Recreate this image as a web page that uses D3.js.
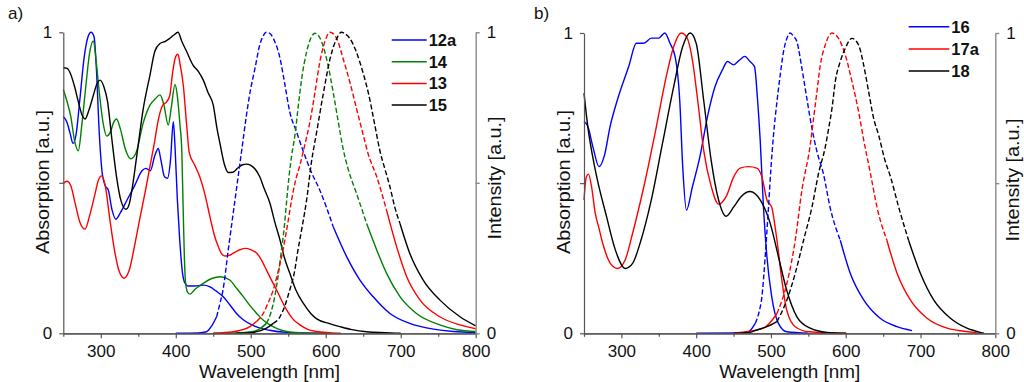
<!DOCTYPE html>
<html><head><meta charset="utf-8">
<script src="https://cdn.jsdelivr.net/npm/d3@7"></script>
<style>
html,body{margin:0;padding:0;background:#fff;}
svg{display:block;font-family:"Liberation Sans",Arial,sans-serif;}
</style></head>
<body>
<svg id="chart" width="1024" height="382"></svg>
<script>
// ---------- DATA (wavelength nm, normalised value) ----------
const xMajorTicks = [300,400,500,600,700,800];
const xMinorTicks = [250,350,450,550,650,750];
const yTicks = [0,0.5,1];

// panel a)
const legendA = ["12a","14","13","15"];
const abs12a = [[250,0.72],[255,0.70],[259,0.665],[263,0.631],[267,0.66],[272,0.775],[278,0.92],[283,0.985],[287,1.0],[291,0.985],[294,0.886],[298,0.664],[302,0.53],[306,0.49],[310,0.476],[315,0.41],[320,0.379],[326,0.40],[335,0.443],[345,0.49],[355,0.54],[360,0.548],[366,0.54],[372,0.59],[376.7,0.614],[380,0.578],[385,0.52],[389,0.515],[393,0.576],[396.7,0.703],[399,0.62],[402,0.45],[405,0.32],[409,0.2],[412,0.168],[416.7,0.157],[425,0.157],[436.7,0.16],[445,0.155],[454,0.14],[463,0.122],[472,0.095],[481,0.066],[490,0.045],[503,0.026],[525,0.01],[548,0.003],[600,0]];
const em12a = [[400,0],[430,0.001],[441,0.005],[448,0.025],[454.5,0.055],[459,0.1],[463,0.144],[470,0.277],[479,0.443],[488,0.609],[494,0.72],[499,0.8],[505.6,0.88],[512,0.958],[516,0.985],[521,1.0],[526,0.995],[530,0.98],[539,0.914],[545.6,0.825],[552,0.736],[561,0.67],[570,0.605],[580,0.54],[592,0.476],[610,0.354],[628,0.254],[645.6,0.177],[663,0.122],[685.6,0.066],[712,0.033],[743.6,0.014],[770,0.006],[800,0.003]];
const abs14 = [[250,0.81],[255,0.77],[260,0.72],[265,0.64],[270,0.606],[275,0.70],[280,0.82],[285,0.93],[290,0.971],[294,0.90],[298,0.80],[303,0.70],[308,0.655],[313,0.67],[317,0.70],[321,0.712],[326,0.68],[333,0.61],[340,0.58],[347,0.60],[356.7,0.70],[365.6,0.758],[373,0.78],[379,0.792],[384,0.76],[390,0.692],[394,0.75],[399,0.827],[402,0.79],[405.6,0.692],[408,0.609],[410,0.40],[411.5,0.25],[413,0.17],[416,0.135],[419,0.13],[425,0.145],[436.7,0.166],[448,0.182],[459,0.188],[472,0.177],[481,0.15],[490,0.122],[499,0.092],[508,0.066],[516,0.045],[525.6,0.028],[536,0.015],[548,0.006],[565,0.002],[600,0]];
const em14 = [[450,0],[480,0.001],[503,0.006],[512,0.015],[521,0.033],[527,0.07],[532,0.122],[537,0.2],[541,0.277],[545,0.36],[548,0.443],[551,0.52],[554.5,0.59],[559,0.659],[563,0.747],[568,0.847],[574.5,0.935],[580,0.98],[585.6,0.997],[590,0.99],[594.5,0.969],[603,0.891],[610,0.80],[616.7,0.703],[623,0.615],[630,0.545],[641,0.465],[654.5,0.365],[668,0.277],[681,0.2],[699,0.122],[721,0.066],[752,0.028],[775,0.012],[800,0.006]];
const abs13 = [[250,0.498],[255,0.505],[260,0.49],[266,0.43],[272,0.37],[279,0.346],[285,0.39],[292,0.46],[297,0.51],[301,0.523],[306,0.49],[312,0.38],[318,0.28],[324,0.21],[331,0.183],[338,0.21],[345,0.29],[352,0.38],[360,0.48],[366,0.56],[372,0.64],[376,0.70],[382,0.755],[388,0.77],[392,0.79],[396,0.87],[400,0.92],[403,0.927],[406,0.89],[410,0.825],[414.5,0.692],[418,0.60],[425,0.56],[432,0.52],[439,0.46],[445.6,0.387],[451,0.33],[456.7,0.288],[461,0.265],[465.6,0.257],[470,0.258],[476.7,0.266],[484,0.276],[492,0.282],[500,0.278],[508,0.266],[514,0.245],[521,0.21],[528,0.175],[534.5,0.144],[541,0.11],[548,0.077],[556,0.048],[565.6,0.028],[576,0.013],[588,0.006],[605,0.002],[620,0]];
const em13 = [[450,0],[476.7,0.005],[499,0.022],[508,0.04],[516.7,0.066],[523,0.1],[530,0.144],[536,0.2],[543,0.277],[549,0.36],[554.5,0.443],[559,0.5],[565.6,0.559],[572,0.625],[579,0.703],[585.6,0.8],[592,0.9],[599,0.97],[605.6,1.0],[614.5,0.98],[623,0.914],[632,0.836],[641,0.747],[650,0.659],[656.7,0.595],[668,0.52],[681,0.41],[694.5,0.288],[708,0.188],[725.6,0.111],[752,0.055],[779,0.028],[800,0.015]];
const abs15 = [[250,0.882],[255,0.88],[260,0.86],[265,0.82],[270,0.77],[275,0.725],[279,0.712],[284,0.74],[290,0.79],[295,0.83],[299,0.841],[304,0.82],[309,0.77],[315,0.64],[321,0.52],[327,0.44],[333.6,0.412],[338,0.43],[343,0.5],[348,0.59],[356.7,0.747],[365.6,0.858],[372,0.936],[379,0.963],[386,0.97],[392,0.98],[397,0.99],[403,1.0],[408,0.97],[414.5,0.936],[423,0.891],[430,0.87],[436.7,0.841],[443,0.80],[450,0.758],[455,0.68],[459,0.63],[465,0.56],[470,0.534],[476,0.535],[483,0.55],[489,0.56],[494.5,0.562],[500,0.558],[506,0.545],[512,0.52],[518,0.48],[525.6,0.432],[532,0.37],[539,0.31],[545,0.25],[552,0.2],[560,0.145],[570,0.1],[580,0.066],[588,0.048],[605,0.032],[619,0.022],[635,0.012],[654.5,0.005],[680,0.002],[700,0]];
const em15 = [[480,0],[500,0.002],[521,0.017],[530,0.033],[539,0.055],[546,0.095],[552,0.144],[558,0.2],[563,0.277],[569,0.36],[574.5,0.443],[581,0.57],[588,0.67],[597,0.80],[606,0.914],[613,0.97],[621,1.0],[626,0.995],[632,0.98],[640,0.94],[645.6,0.9],[651,0.855],[656.7,0.8],[665.6,0.69],[672,0.609],[679,0.545],[685.6,0.487],[692,0.42],[699,0.365],[712,0.266],[730,0.177],[752,0.111],[779,0.055],[800,0.025]];

// panel b)
const legendB = ["16","17a","18"];
const abs16 = [[250,0.705],[255,0.69],[262,0.62],[270,0.555],[277,0.589],[285,0.69],[295,0.78],[310,0.89],[320,0.966],[330,0.966],[340,0.983],[350,0.983],[358,1.0],[365,0.966],[372,0.92],[378,0.777],[382,0.555],[387,0.41],[395,0.488],[405,0.588],[415,0.72],[425,0.82],[435,0.877],[442,0.905],[450,0.894],[458,0.91],[465,0.922],[472,0.905],[478,0.888],[482,0.78],[485.6,0.644],[490,0.42],[494.6,0.255],[501,0.122],[510,0.033],[521,0.005],[550,0]];
const em16 = [[400,0],[460,0.001],[470,0.005],[479,0.033],[484,0.07],[487.9,0.122],[492.3,0.255],[496.7,0.42],[500,0.55],[503.4,0.66],[508,0.771],[512.4,0.86],[516.8,0.938],[521,0.98],[525.8,1.0],[530,0.99],[534.7,0.971],[541.4,0.882],[548,0.782],[554.8,0.683],[561.5,0.605],[570,0.533],[579,0.42],[592.7,0.31],[606,0.2],[624,0.111],[646,0.05],[668.6,0.022],[688.7,0.009]];
const abs17a = [[250,0.444],[253,0.52],[256,0.53],[260,0.49],[265,0.40],[270,0.35],[275,0.30],[285,0.234],[295,0.216],[305,0.244],[315,0.333],[330,0.488],[345,0.666],[360,0.855],[370,0.955],[380,1.0],[387,0.988],[395,0.91],[402,0.777],[410,0.61],[420,0.49],[430,0.43],[440,0.455],[450,0.52],[458.8,0.55],[470,0.555],[481,0.55],[488,0.52],[494.6,0.444],[501,0.42],[508,0.31],[514.6,0.177],[521,0.078],[532.5,0.022],[551,0.005],[601,0]];
const em17a = [[450,0],[458.8,0.003],[490,0.017],[508,0.066],[521.3,0.166],[532.5,0.31],[541.4,0.477],[552.5,0.627],[557,0.716],[561.5,0.805],[566,0.893],[572.6,0.96],[581.6,1.0],[590.4,0.982],[599.4,0.927],[608.4,0.838],[617.2,0.738],[624,0.644],[633,0.533],[641.8,0.42],[655,0.31],[668.6,0.2],[686.4,0.111],[708.7,0.05],[735.5,0.017],[771,0.003],[780,0]];
const abs18 = [[250,0.8],[255,0.69],[265,0.545],[280,0.39],[292,0.277],[305,0.216],[315,0.233],[325,0.3],[340,0.444],[355,0.633],[370,0.822],[382,0.955],[392,1.0],[400,0.966],[410,0.777],[420,0.577],[430,0.444],[440,0.39],[450,0.42],[460,0.455],[472,0.472],[485.6,0.444],[499,0.366],[510,0.255],[521,0.144],[534.7,0.055],[552.5,0.017],[575,0.003],[600,0]];
const em18 = [[450,0],[472,0.003],[481,0.011],[494.6,0.022],[508,0.039],[521.3,0.111],[532.5,0.2],[543.6,0.31],[554.8,0.42],[563.7,0.533],[572.6,0.62],[577,0.68],[581.6,0.749],[586,0.838],[592.7,0.905],[599.4,0.949],[608.4,0.982],[617.2,0.96],[624,0.893],[630.6,0.805],[637.3,0.716],[644,0.66],[652,0.58],[660,0.52],[670.8,0.42],[684,0.31],[699.8,0.2],[717.6,0.111],[740,0.05],[762,0.017],[780,0.003],[785,0]];

// ---------- DRAWING ----------
const svg = d3.select("#chart");
const FONT = '"Liberation Sans", Arial, sans-serif';

function drawPanel(p){
  const x = d3.scaleLinear().domain([250,800]).range([p.x0,p.x1]);
  const y = d3.scaleLinear().domain([0,1]).range([p.yb,p.yt]);
  const g = svg.append("g");
  const line = d3.line().x(d=>x(d[0])).y(d=>y(d[1])).curve(d3.curveMonotoneX);

  // absorption (solid)
  p.series.forEach(s=>{
    g.append("path").datum(s.abs).attr("d",line)
      .attr("fill","none").attr("stroke",s.color).attr("stroke-width",1.4)
      .attr("stroke-linejoin","round");
  });
  // emission (dashed core, solid tails)
  p.series.forEach(s=>{
    const d = s.em;
    let i0 = d.findIndex(v=>v[1]>=0.03); if(i0<0) i0=0;
    let i1 = d.length-1; while(i1>0 && d[i1][1]<0.3) i1--;
    const parts = [
      {pts:d.slice(0,i0+1),dash:null},
      {pts:d.slice(i0,i1+1),dash:"5,2.5"},
      {pts:d.slice(i1),dash:null}
    ];
    parts.forEach(pt=>{
      if(pt.pts.length<2) return;
      g.append("path").datum(pt.pts).attr("d",line)
        .attr("fill","none").attr("stroke",s.color).attr("stroke-width",1.4)
        .attr("stroke-dasharray",pt.dash);
    });
  });

  // axes
  const axB = g.append("g").attr("transform",`translate(0,${p.yb})`)
    .call(d3.axisBottom(x).tickValues(xMajorTicks).tickSize(5).tickSizeOuter(0).tickFormat(d3.format("d")));
  const axBm = g.append("g").attr("transform",`translate(0,${p.yb})`)
    .call(d3.axisBottom(x).tickValues(xMinorTicks).tickSize(3.5).tickSizeOuter(0).tickFormat(""));
  const axL = g.append("g").attr("transform",`translate(${p.x0},0)`)
    .call(d3.axisLeft(y).tickValues(yTicks).tickSize(4).tickSizeOuter(0).tickPadding(7)
      .tickFormat(d=>d===0.5?"":d3.format("d")(d)));
  const axR = g.append("g").attr("transform",`translate(${p.x1},0)`)
    .call(d3.axisRight(y).tickValues(yTicks).tickSize(4).tickSizeOuter(0).tickPadding(7)
      .tickFormat(d=>d===0.5?"":d3.format("d")(d)));
  [axB,axBm,axL].forEach(a=>{a.selectAll("path,line").attr("stroke","#555").attr("stroke-width",1.2);});
  axR.selectAll("path,line").attr("stroke","#8a8a8a").attr("stroke-width",1.4);
  [axB,axL,axR].forEach(a=>a.attr("font-family",FONT).attr("font-size",17));
  axB.selectAll("text").attr("y",24).attr("dy",0).attr("fill","#111");
  axL.selectAll("text").attr("fill","#111");
  axR.selectAll("text").attr("fill","#111");

  // titles
  g.append("text").attr("transform",`translate(${(p.x0+p.x1)/2+p.xtOff},378) scale(1.05,1)`)
    .attr("text-anchor","middle").attr("font-size",18).attr("fill","#111").text("Wavelength [nm]");
  g.append("text").attr("transform",`translate(${p.absX},${p.absY}) rotate(-90) scale(1.1,1)`)
    .attr("text-anchor","middle").attr("font-size",18).attr("fill","#111").text("Absorption [a.u.]");
  g.append("text").attr("transform",`translate(${p.intX},${p.intY}) rotate(-90) scale(1.1,1)`)
    .attr("text-anchor","middle").attr("font-size",18).attr("fill","#111").text("Intensity [a.u.]");
  g.append("text").attr("x",p.labX).attr("y",19).attr("font-size",17).attr("fill","#111").text(p.label);

  // legend
  p.series.forEach((s,i)=>{
    const ly = p.legY + i*p.legDy;
    g.append("line").attr("x1",p.legX).attr("x2",p.legX+p.legW).attr("y1",ly).attr("y2",ly)
      .attr("stroke",s.color).attr("stroke-width",1.5);
    g.append("text").attr("x",p.legX+p.legW+2).attr("y",ly+6).attr("font-size",16.5)
      .attr("font-weight","bold").attr("fill","#111").text(s.name);
  });
}

drawPanel({
  x0:63.3, x1:475.7, yb:333.3, yt:32.3, xtOff:0,
  absX:49, absY:182, intX:501, intY:178, labX:8, label:"a)",
  legX:391.7, legW:35, legY:40, legDy:21.7,
  series:[
    {name:legendA[0],color:"#0000ff",abs:abs12a,em:em12a},
    {name:legendA[1],color:"#008000",abs:abs14,em:em14},
    {name:legendA[2],color:"#ff0000",abs:abs13,em:em13},
    {name:legendA[3],color:"#000000",abs:abs15,em:em15}
  ]
});
drawPanel({
  x0:584, x1:995.3, yb:333.3, yt:33, xtOff:0,
  absX:570, absY:182, intX:1019, intY:180, labX:534, label:"b)",
  legX:908.7, legW:40.6, legY:26.7, legDy:22.2,
  series:[
    {name:legendB[0],color:"#0000ff",abs:abs16,em:em16},
    {name:legendB[1],color:"#ff0000",abs:abs17a,em:em17a},
    {name:legendB[2],color:"#000000",abs:abs18,em:em18}
  ]
});
</script>
</body></html>
